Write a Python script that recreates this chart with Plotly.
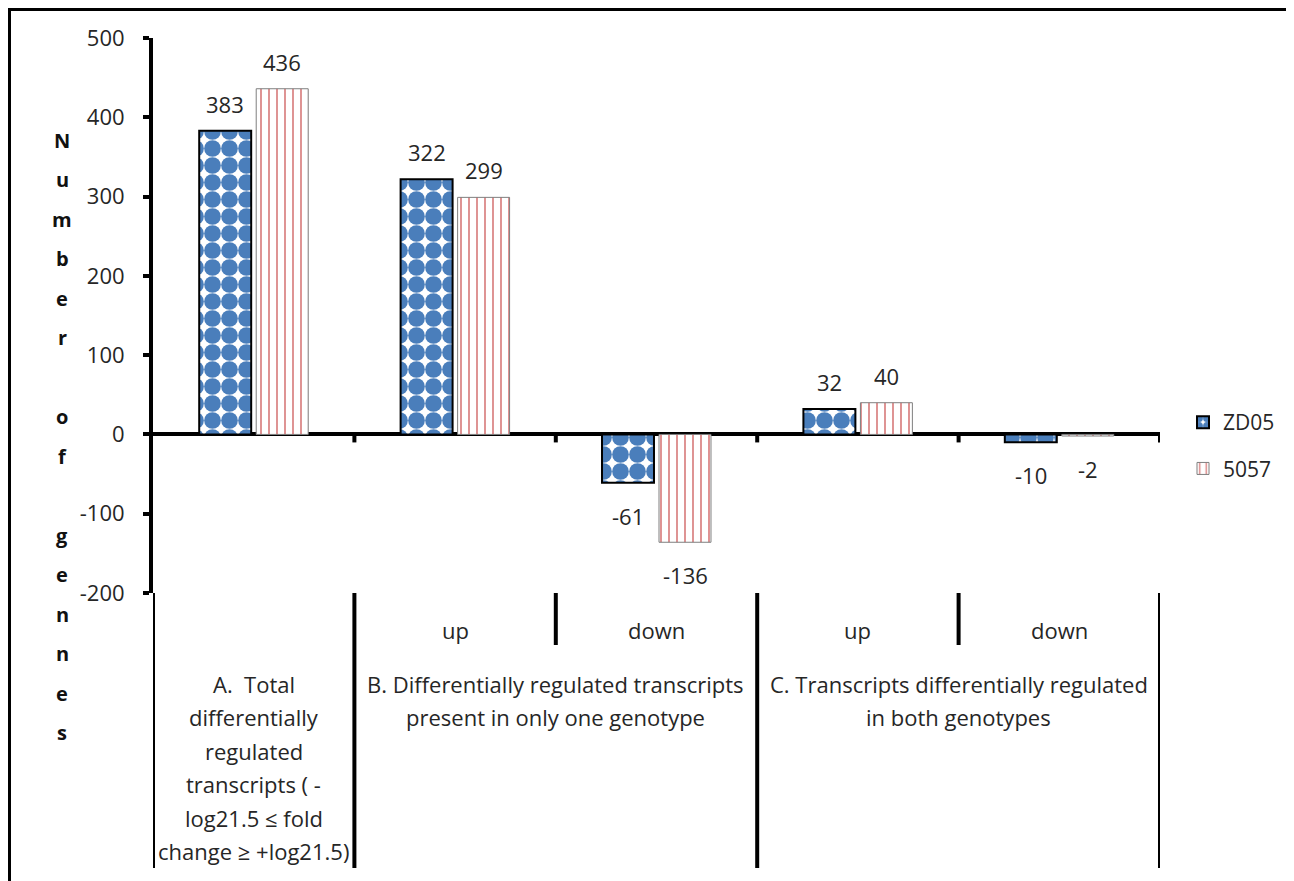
import plotly.graph_objects as go

# categories (bars) and series values
categories = ["A", "B up", "B down", "C up", "C down"]
zd05 = [383, 322, -61, 32, -10]
s5057 = [436, 299, -136, 40, -2]
series_names = ["ZD05", "5057"]

# table text under the chart
sub_labels = ["", "up", "down", "up", "down"]
group_labels = [
    ["A.  Total", "differentially", "regulated", "transcripts ( -",
     "log21.5 \u2264 fold", "change \u2265 +log21.5)"],
    ["B. Differentially regulated transcripts", "present in only one genotype"],
    ["C. Transcripts differentially regulated", "in both genotypes"],
]
group_spans = [(0, 0), (1, 2), (3, 4)]
y_title = "Number of gennes"
y_ticks = [-200, -100, 0, 100, 200, 300, 400, 500]
y_ticktext = ["-200", "-100", "0", "100", "200", "300", "400", "500"]

FONT = "'Open Sans', Lato, sans-serif"
TXT = "#262626"
FS = 22
OFF = 8  # page body margin
W, H = 1294 - OFF, 881 - OFF
# plot box in page pixels: x 153..1160, y 38..593
L, T = 153 - OFF, 38 - OFF
R, B = W - (1160 - OFF), H - (593 - OFF)
PH = H - T - B
PW = W - L - R


def py(p):
    # page pixel row -> paper y
    return (H - B - (p - OFF)) / PH


def px(p):
    # page pixel column -> paper x
    return (p - OFF - L) / PW


fig = go.Figure()
fig.add_trace(go.Bar(
    x=categories, y=zd05, name=series_names[0], legendgroup="a",
    marker=dict(color="white", line=dict(color="black", width=2),
                pattern=dict(shape=".", fgcolor="#4a7ebb", bgcolor="white",
                             size=17, solidity=0.76, fgopacity=1)),
))
fig.add_trace(go.Bar(
    x=categories, y=s5057, name=series_names[1], legendgroup="b",
    marker=dict(color="white", line=dict(color="#7f7f7f", width=1),
                pattern=dict(shape="|", fgcolor="#cc5555", bgcolor="white",
                             size=8, solidity=0.2, fgopacity=0.8)),
))

ann = []
# value labels
for vals, dx in ((zd05, -28.5), (s5057, 28.5)):
    for c, v in zip(categories, vals):
        ann.append(dict(x=c, y=v, xref="x", yref="y", text=str(v), showarrow=False,
                        xanchor="center", yanchor="middle",
                        xshift=dx, yshift=27 if v >= 0 else -33,
                        font=dict(size=FS, color=TXT, family=FONT)))

# vertical y title, one letter per row
for i, ch in enumerate(y_title):
    if ch == " ":
        continue
    ann.append(dict(x=px(62), y=py(140 + i * 39.5), xref="paper", yref="paper",
                    xanchor="center", yanchor="middle",
                    text="<b>%s</b>" % ch, showarrow=False,
                    font=dict(size=20, color="#111", family=FONT)))

# sub labels (up / down)
for c, s in zip(categories, sub_labels):
    if s:
        ann.append(dict(x=c, y=py(630), xref="x", yref="paper", text=s, showarrow=False,
                        xanchor="center", yanchor="middle",
                        font=dict(size=FS, color=TXT, family=FONT)))

# group labels, line by line
for (a, b), lines in zip(group_spans, group_labels):
    for j, line in enumerate(lines):
        ann.append(dict(x=(a + b) / 2, y=py(684 + j * 33.4), xref="x", yref="paper",
                        xanchor="center", yanchor="middle",
                        text=line, showarrow=False,
                        font=dict(size=FS, color=TXT, family=FONT)))

shapes = []
n = len(categories)
# long table dividers
for xb in (-0.5, 0.5, 2.5, n - 0.5):
    shapes.append(dict(type="line", xref="x", yref="paper", x0=xb, x1=xb,
                       y0=0, y1=py(868), line=dict(color="black", width=4)))
# short dividers between up/down
for xb in (1.5, 3.5):
    shapes.append(dict(type="line", xref="x", yref="paper", x0=xb, x1=xb,
                       y0=0, y1=py(645), line=dict(color="black", width=4)))
# tick marks on the zero line at category boundaries
for k in range(n):
    xb = k + 0.5
    shapes.append(dict(type="line", xref="x", yref="y", ysizemode="pixel", yanchor=0,
                       x0=xb, x1=xb, y0=0, y1=-8, line=dict(color="black", width=4)))
# outer frame
shapes.append(dict(type="rect", xref="paper", yref="paper",
                   x0=px(9.5), x1=px(1320), y0=py(920), y1=py(9.5),
                   line=dict(color="black", width=3),
                   fillcolor="rgba(0,0,0,0)", layer="below"))

fig.update_layout(
    width=W, height=H,
    margin=dict(l=L, r=R, t=T, b=B, pad=0, autoexpand=False),
    paper_bgcolor="white", plot_bgcolor="white",
    barmode="group", bargap=0.434, bargroupgap=0.088,
    font=dict(family=FONT, size=FS, color=TXT),
    showlegend=True,
    legend=dict(x=px(1183), y=py(402), xanchor="left", yanchor="top",
                font=dict(size=21, color=TXT, family=FONT),
                tracegroupgap=16, bgcolor="rgba(0,0,0,0)", itemwidth=30),
    annotations=ann, shapes=shapes,
)
fig.update_xaxes(showticklabels=False, showgrid=False, showline=False, ticks="",
                 zeroline=False, range=[-0.5, n - 0.5])
fig.update_yaxes(range=[-200, 500], tickvals=y_ticks, ticktext=y_ticktext, showgrid=False,
                 showline=True, linewidth=4, linecolor="black",
                 ticks="outside", ticklen=6, tickwidth=4, tickcolor="black",
                 ticklabelstandoff=14,
                 zeroline=True, zerolinewidth=4, zerolinecolor="black",
                 tickfont=dict(size=FS, color=TXT, family=FONT))

fig.write_html("out.html")
